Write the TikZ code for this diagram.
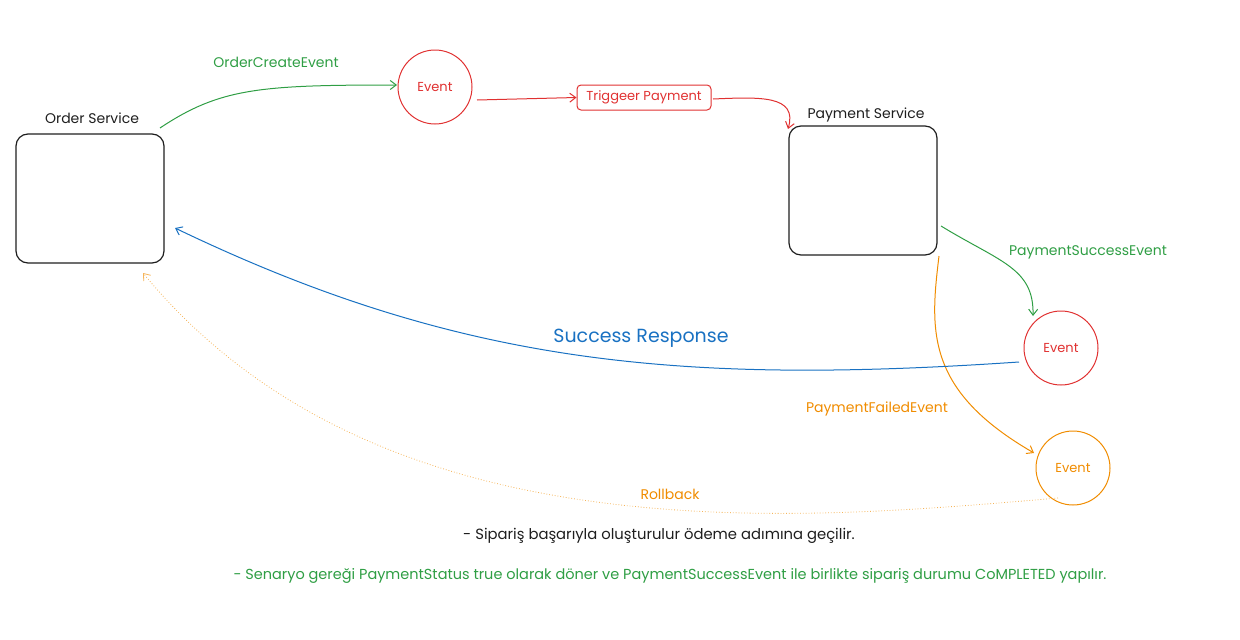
\documentclass[tikz,border=0pt]{standalone}
\usepackage{fontspec}
\setmainfont{Poppins}
\usetikzlibrary{arrows.meta}
\definecolor{cred}{HTML}{E03131}
\definecolor{cgreen}{HTML}{2F9E44}
\definecolor{corange}{HTML}{F08C00}
\definecolor{cblue}{HTML}{1971C2}
\definecolor{cdark}{HTML}{1E1E1E}
\begin{document}
\begin{tikzpicture}[x=1pt,y=-1pt,
  txt/.style={font=\fontsize{14}{16}\selectfont, inner sep=0pt},
  service/.style={draw=cdark, line width=1.2pt, rounded corners=12pt, minimum width=148pt, minimum height=129pt},
  evt/.style={circle, line width=1pt, minimum size=74pt, inner sep=0pt, font=\fontsize{13}{15}\selectfont},
  arr/.style={line width=1pt, -{Straight Barb[length=6pt,width=9pt]}},
]
\useasboundingbox (0,0) rectangle (1240,640);

% services
\node[service] (order) at (90,198.5) {};
\node[txt, text=cdark, anchor=south] (orderlbl) at (92,124) {Order Service};
\node[service] (pay) at (863,190.5) {};
\node[txt, text=cdark, anchor=south] (paylbl) at (866,122) {Payment Service};

% events
\node[evt, draw=cred, text=cred] (ev1) at (435,87) {Event};
\node[draw=cred, text=cred, line width=1pt, rounded corners=4pt, minimum width=134pt, minimum height=25pt, inner sep=0pt, font=\fontsize{13}{15}\selectfont] (trig) at (644,97.5) {Triggeer Payment};
\node[evt, draw=cred, text=cred] (ev2) at (1061,348) {Event};
\node[evt, draw=corange, text=corange] (ev3) at (1073,468) {Event};

% connector end points
\coordinate (ocStart) at (160,128);
\coordinate (ev1In) at (397,85);
\coordinate (ev1Out) at (477,100);
\coordinate (trigOut) at (713,99);
\coordinate (payIn) at (788,129);
\coordinate (psOut) at (941,226);
\coordinate (ev2In) at (1033,316);
\coordinate (pfOut) at (939,256);
\coordinate (ev3In) at (1034,453);
\coordinate (srOut) at (1019,362);
\coordinate (orderIn) at (175,228);
\coordinate (rbOut) at (1058,498);
\coordinate (orderRb) at (143,273);

% connectors
\draw[arr, cgreen] (ocStart) .. controls (220,88) and (260,85) .. (ev1In);
\node[txt, text=cgreen] (lblce) at (276,62) {OrderCreateEvent};

\draw[arr, cred] (ev1Out) -- (trig.west);
\draw[arr, cred] (trigOut) .. controls (760,97) and (798,95) .. (payIn);

\draw[arr, cgreen] (psOut) .. controls (1000,262) and (1034,268) .. (ev2In);
\node[txt, text=cgreen] (lblps) at (1088,252) {PaymentSuccessEvent};

\draw[arr, corange] (pfOut) .. controls (930,330) and (925,390) .. (ev3In);
\node[txt, text=corange] (lblpf) at (877,409) {PaymentFailedEvent};

\draw[arr, cblue] (srOut) .. controls (680,385) and (460,365) .. (orderIn);
\node[text=cblue, inner sep=0pt, font=\fontsize{19}{22}\selectfont] (lblsr) at (641,338) {Success Response};

\draw[arr, corange!65, line width=0.8pt, dotted] (rbOut) .. controls (800,520) and (380,560) .. (orderRb);
\node[txt, text=corange] (lblrb) at (670,494) {Rollback};

% notes
\node[font=\fontsize{14.8}{17}\selectfont, inner sep=0pt, text=cdark] (note1) at (659,536) {- Sipariş başarıyla oluşturulur ödeme adımına geçilir.};
\node[font=\fontsize{14.5}{17}\selectfont, inner sep=0pt, text=cgreen] (note2) at (670,576) {- Senaryo gereği PaymentStatus true olarak döner ve PaymentSuccessEvent ile birlikte sipariş durumu CoMPLETED yapılır.};
\end{tikzpicture}
\end{document}
